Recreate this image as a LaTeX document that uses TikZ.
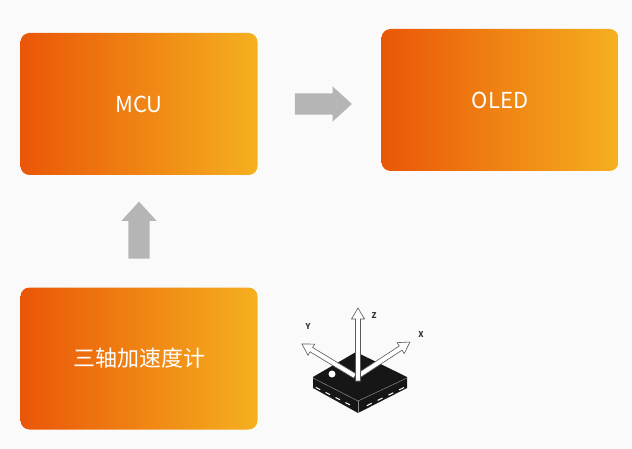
\documentclass[tikz,border=0pt]{standalone}
\usepackage{fontspec}
\setmainfont{Noto Sans CJK SC}
\usetikzlibrary{shapes.arrows}

\definecolor{boxleft}{RGB}{234,86,8}
\definecolor{boxright}{RGB}{245,176,31}
\definecolor{arrowgray}{RGB}{181,181,181}
\definecolor{bgcolor}{RGB}{250,250,250}
\definecolor{chipblack}{RGB}{22,22,22}

\tikzset{
    block/.style={rounded corners=9pt, minimum width=237pt, minimum height=142pt,
        left color=boxleft, right color=boxright, text=white,
        font=\fontsize{22}{26}\selectfont, inner sep=0pt},
    flowarrow/.style={single arrow, fill=arrowgray, minimum height=57pt,
        single arrow head extend=7pt, single arrow tip angle=85,
        inner xsep=0pt, inner ysep=10.5pt},
    axisarrow/.style={fill=white, draw=black!65, line width=0.6pt},
    axislabel/.style={font=\fontsize{8}{9}\selectfont\bfseries, text=black!80, inner sep=0pt},
    pin/.style={white, line width=1pt}
}

% start, angle, length
\newcommand{\drawaxis}[3]{
    \draw[axisarrow, shift={#1}, rotate=#2]
        (0,-2.5) -- (#3-11,-2.5) -- (#3-11,-6.5) -- (#3,0) -- (#3-11,6.5) -- (#3-11,2.5) -- (0,2.5) -- cycle;
}

\begin{document}
\begin{tikzpicture}[x=1pt, y=-1pt]

                    \fill[bgcolor] (0,0) rectangle (632,449);
                    \useasboundingbox (0,0) rectangle (632,449);

                    \node[block] (mcu) at (139,104) {MCU};
                    \node[block] (oled) at (500,100) {OLED};
                    \node[block] (acc) at (139,358.5) {三轴加速度计};

                    \node[flowarrow] (toOled) at (317.5,104) {};
                    \node[flowarrow, rotate=90] (toMcu) at (139,236) {};

                    \fill[chipblack] (313,377) -- (356,352) -- (407,377) -- (407,388) -- (358,413) -- (313,388) -- cycle;
                    \draw[black!45, line width=0.5pt] (313,378) -- (358,401) -- (407,378);
                    \draw[black!45, line width=0.5pt] (358,401) -- (358,413);
                    \fill[white] (332,374) circle (3.5);
                    \foreach \a/\b in {0.06/0.16, 0.28/0.38, 0.5/0.6, 0.72/0.82}
                        \draw[pin] (313+45*\a,386+23*\a) -- (313+45*\b,386+23*\b);
                    \foreach \a/\b in {0.18/0.28, 0.4/0.5, 0.62/0.72, 0.84/0.94}
                        \draw[pin] (358+49*\a,410-24*\a) -- (358+49*\b,410-24*\b);

                    \drawaxis{(358,376)}{33.2}{62}
                    \drawaxis{(355,376)}{148.9}{62}
                    \drawaxis{(358,381)}{90}{73}

                    \node[axislabel] (labX) at (421,335) {X};
                    \node[axislabel] (labY) at (308,327) {Y};
                    \node[axislabel] (labZ) at (374,316) {Z};
                \end{tikzpicture}
\end{document}
